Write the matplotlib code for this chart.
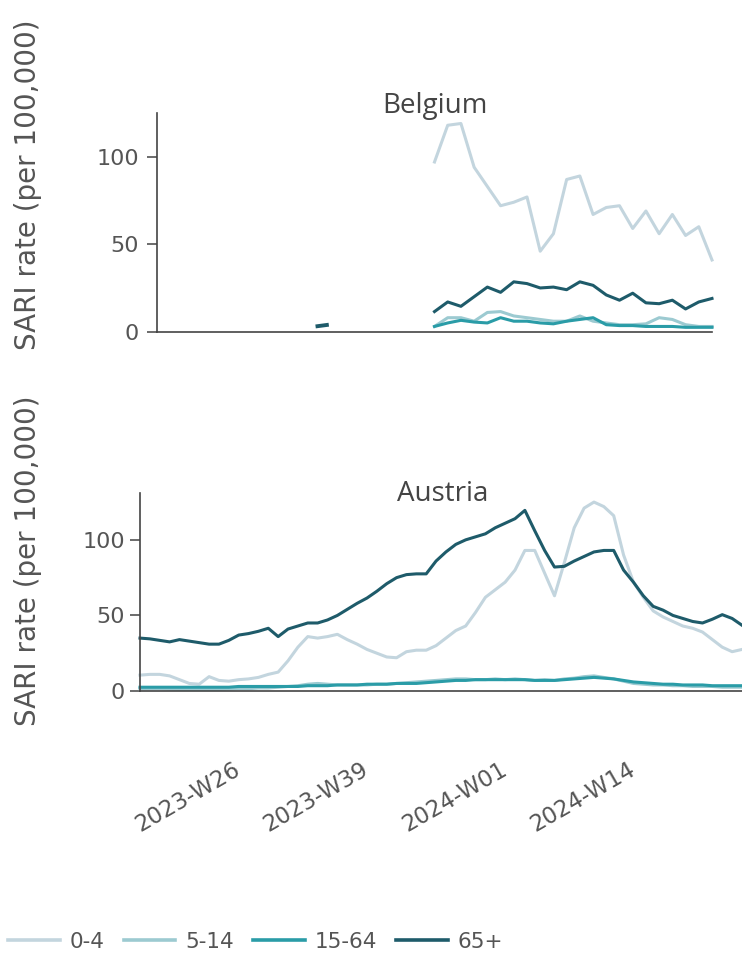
import numpy as np
import matplotlib
matplotlib.use("Agg")
import matplotlib.pyplot as plt
from matplotlib.lines import Line2D

plt.rcParams["font.family"] = ["DejaVu Sans"]

# ISO weeks on the time axis (2023-W16 .. 2024-W25)
WEEKS = [f"2023-W{w:02d}" for w in range(16, 53)] + [f"2024-W{w:02d}" for w in range(1, 26)]
TICK_WEEKS = ["2023-W26", "2023-W39", "2024-W01", "2024-W14"]

AGE_GROUPS = ["0-4", "5-14", "15-64", "65+"]
COLORS = ["#c3d5de", "#9ccad1", "#2a9ca7", "#1e5b6a"]

# Austria, SARI rate per 100,000, one value per week in WEEKS
AT_0_4 = [10.5, 11, 11, 10, 7.5, 5, 4.5, 9.5, 7, 6.5,
          7.5, 8, 9, 11, 12.5, 20, 29, 36, 35, 36,
          37.5, 34, 31, 27.5, 25, 22.5, 22, 26, 27, 27,
          30, 35, 40, 43, 52, 62, 67, 72, 80, 93,
          93, 78, 63, 85, 108, 121, 125, 122, 116, 90,
          72, 62, 53, 49, 46, 43, 41.5, 39, 34, 29,
          26, 27.5]
AT_5_14 = [1.5, 1.5, 1.5, 1.2, 1, 1, 1, 1, 1, 1.2,
           1.5, 1.5, 2, 2, 2.5, 3, 3.5, 4.5, 5, 4.5,
           4, 4, 4, 4, 4.5, 4.5, 5, 5.5, 6, 6.5,
           7, 7.5, 8, 8, 7.5, 7.5, 8, 7.5, 8, 7.5,
           7, 7.5, 7, 8, 8.5, 9.5, 10, 9, 8, 6.5,
           5, 4.5, 4, 4, 3.5, 3.5, 3, 3, 3, 2.5,
           2.5, 2.5]
AT_15_64 = [2.5, 2.5, 2.5, 2.5, 2.5, 2.5, 2.5, 2.5, 2.5, 2.5,
            3, 3, 3, 3, 3, 3, 3, 3.5, 3.5, 3.5,
            4, 4, 4, 4.5, 4.5, 4.5, 5, 5, 5, 5.5,
            6, 6.5, 7, 7, 7.5, 7.5, 7.5, 7.5, 7.5, 7.5,
            7, 7, 7, 7.5, 8, 8.5, 9, 8.5, 8, 7,
            6, 5.5, 5, 4.5, 4.5, 4, 4, 4, 3.5, 3.5,
            3.5, 3.5]
AT_65 = [35, 34.5, 33.5, 32.5, 34, 33, 32, 31, 31, 33.5,
         37, 38, 39.5, 41.5, 36, 41, 43, 45, 45, 47,
         50, 54, 58, 61.5, 66, 71, 75, 77, 77.5, 77.5,
         86, 92, 97, 100, 102, 104, 108, 111, 114, 119.5,
         106, 93, 82, 82.5, 86, 89, 92, 93, 93, 80,
         72, 63, 56, 53.5, 50, 48, 46, 45, 47.5, 50.5,
         48, 43.5]

# Belgium: axis covers 2023-W35 .. 2024-W25, regular reporting from 2024-W04
BE_AXIS_START = "2023-W35"
BE_WEEKS = WEEKS[WEEKS.index("2024-W04"):]
BE_0_4 = [97, 118, 119, 94, 83, 72, 74, 77, 46, 56, 87,
          89, 67, 71, 72, 59, 69, 56, 67, 55, 60, 41]
BE_5_14 = [3, 8, 8, 6, 11, 11.5, 9, 8, 7, 6, 6,
           9, 6, 5, 4, 4, 4.5, 8, 7, 4, 3, 3]
BE_15_64 = [3, 5, 6.5, 5.5, 5, 8, 6, 6, 5, 4.5, 6,
            7, 8, 4, 3.5, 3.5, 3, 3, 3, 2.5, 2.5, 2.5]
BE_65 = [11.5, 17, 14.5, 20, 25.5, 22.5, 28.5, 27.5, 25, 25.5, 24,
         28.5, 26.5, 21, 18, 22, 16.5, 16, 18, 13, 17, 19]
# two isolated early reports for the 65+ group
BE_65_EARLY_WEEKS = ["2023-W47", "2023-W48"]
BE_65_EARLY = [3, 4]

TEXT = "#555555"
AXIS = "#444444"
W, H = 742, 956

fig = plt.figure(figsize=(W / 100, H / 100), dpi=100)
fig.patch.set_facecolor("white")


def px_axes(left, right, top, bottom):
    return fig.add_axes([left / W, 1 - bottom / H, (right - left) / W, (bottom - top) / H])


def style(ax, pad):
    for s in ("top", "right"):
        ax.spines[s].set_visible(False)
    for s in ("left", "bottom"):
        ax.spines[s].set_color(AXIS)
        ax.spines[s].set_linewidth(1.2)
    ax.set_yticks([0, 50, 100])
    ax.tick_params(axis="y", length=7, width=1.1, color=AXIS, pad=pad,
                   labelsize=16, labelcolor=TEXT)
    ax.set_facecolor("white")


LW = 2.2

# ---- Belgium ----
ax_be = px_axes(157, 712, 113, 331.7)
be_off = WEEKS.index(BE_AXIS_START)
be_x = [WEEKS.index(w) - be_off for w in BE_WEEKS]
for vals, c in zip([BE_0_4, BE_5_14, BE_15_64, BE_65], COLORS):
    ax_be.plot(be_x, vals, color=c, lw=LW, solid_joinstyle="round", clip_on=False)
ax_be.plot([WEEKS.index(w) - be_off for w in BE_65_EARLY_WEEKS], BE_65_EARLY,
           color=COLORS[3], lw=LW + 0.6, solid_capstyle="butt")
ax_be.set_xlim(0, len(WEEKS) - 1 - be_off)
ax_be.set_ylim(0, 125)
ax_be.set_xticks([])
style(ax_be, pad=6)

# ---- Austria ----
ax_at = px_axes(140, 742, 493, 691)
at_x = np.arange(len(WEEKS))
for vals, c in zip([AT_0_4, AT_5_14, AT_15_64, AT_65], COLORS):
    ax_at.plot(at_x, vals, color=c, lw=LW, solid_joinstyle="round", clip_on=False)
ax_at.set_xlim(0, len(WEEKS) - 1)
ax_at.set_ylim(0, 131)
style(ax_at, pad=4)
ax_at.set_xticks([WEEKS.index(w) for w in TICK_WEEKS])
ax_at.set_xticklabels(TICK_WEEKS, rotation=30, ha="right", va="center",
                      rotation_mode="anchor")
ax_at.tick_params(axis="x", length=0, pad=55, labelsize=16.5, labelcolor=TEXT)

# titles and axis labels
fig.text(434.5 / W, 1 - 106 / H, "Belgium", ha="center", va="center",
         fontsize=20, color="#444444", family="Open Sans")
fig.text(443 / W, 1 - 494 / H, "Austria", ha="center", va="center",
         fontsize=20, color="#444444", family="Open Sans")
for yc in (185, 561):
    fig.text(28 / W, 1 - yc / H, "SARI rate (per 100,000)", rotation=90,
             ha="center", va="center", fontsize=20, color=TEXT)

# legend
handles = [Line2D([], [], color=c, lw=2.6) for c in COLORS]
fig.legend(handles, AGE_GROUPS, loc="center left", bbox_to_anchor=(8 / W, 1 - 942 / H),
           ncol=4, frameon=False, fontsize=15.5, handlelength=2.4, handletextpad=0.45,
           columnspacing=0.9, borderpad=0, borderaxespad=0, labelcolor=TEXT)

fig.savefig("out.png", dpi=100, facecolor="white")
